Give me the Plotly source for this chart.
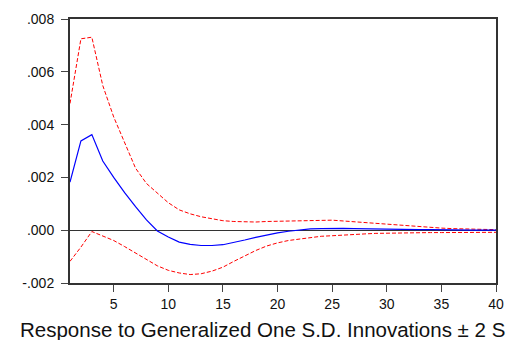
import plotly.graph_objects as go

periods = list(range(1, 41))

response = [0.00182, 0.00338, 0.00362, 0.00262, 0.00200, 0.00142, 0.00089, 0.00039, -0.00003, -0.00026,
            -0.00045, -0.00054, -0.00058, -0.00058, -0.00055, -0.00047, -0.00037, -0.00027, -0.00018, -0.00010,
            -0.00004, 0.00001, 0.00005, 0.00006, 0.00007, 0.00007, 0.00006, 0.00005, 0.00005, 0.00004,
            0.00003, 0.00003, 0.00002, 0.00002, 0.00001, 0.00001, 0.00001, 0.00000, 0.00000, 0.00000]

upper = [0.00480, 0.00725, 0.00731, 0.00548, 0.00429, 0.00329, 0.00235, 0.00177, 0.00140, 0.00104,
         0.00077, 0.00062, 0.00051, 0.00044, 0.00036, 0.00033, 0.00031, 0.00031, 0.00033, 0.00034,
         0.00036, 0.00036, 0.00038, 0.00038, 0.00038, 0.00035, 0.00032, 0.00029, 0.00025, 0.00021,
         0.00018, 0.00015, 0.00012, 0.00010, 0.00008, 0.00006, 0.00005, 0.00004, 0.00003, 0.00002]

lower = [-0.00118, -0.00064, -0.00005, -0.00021, -0.00039, -0.00062, -0.00087, -0.00112, -0.00135, -0.00152,
         -0.00162, -0.00168, -0.00165, -0.00155, -0.00140, -0.00118, -0.00097, -0.00077, -0.00060, -0.00048,
         -0.00039, -0.00033, -0.00027, -0.00023, -0.00021, -0.00018, -0.00016, -0.00014, -0.00012, -0.00011,
         -0.00010, -0.00009, -0.00009, -0.00009, -0.00009, -0.00009, -0.00008, -0.00008, -0.00008, -0.00008]

ytick_vals = [-0.002, 0.000, 0.002, 0.004, 0.006, 0.008]
ytick_text = ["-.002", ".000", ".002", ".004", ".006", ".008"]
xtick_vals = [5, 10, 15, 20, 25, 30, 35, 40]
title_text = "Response to Generalized One S.D. Innovations \u00b1 2 S.E."

fig = go.Figure()
fig.add_trace(go.Scatter(x=periods, y=upper, mode="lines",
                         line=dict(color="#ff0000", width=1, dash="4px,2px"), showlegend=False))
fig.add_trace(go.Scatter(x=periods, y=lower, mode="lines",
                         line=dict(color="#ff0000", width=1, dash="4px,2px"), showlegend=False))
fig.add_trace(go.Scatter(x=periods, y=response, mode="lines",
                         line=dict(color="#0000ff", width=1.2), showlegend=False))

fig.update_layout(
    width=506, height=340,
    margin=dict(l=70, r=10, t=19, b=57, autoexpand=False),
    paper_bgcolor="white", plot_bgcolor="white",
    font=dict(family="Liberation Sans, Arial, sans-serif", size=14, color="#111"),
    xaxis=dict(range=[1, 40], tickvals=xtick_vals, ticks="outside", ticklen=7, tickwidth=1,
               tickcolor="#444", showline=True, linecolor="#333", linewidth=2, mirror=True,
               showgrid=False, zeroline=False, tickfont=dict(size=14), automargin=False),
    yaxis=dict(range=[-0.002, 0.008], tickvals=ytick_vals, ticktext=ytick_text, ticks="outside",
               ticklen=7, tickwidth=1, tickcolor="#444", showline=True, linecolor="#333",
               linewidth=2, mirror=True, showgrid=False, zeroline=True, zerolinecolor="#333",
               zerolinewidth=1, tickfont=dict(size=14), ticklabelstandoff=4, automargin=False),
    annotations=[dict(text=title_text, xref="paper", yref="paper", x=0.481, y=-0.178,
                      xanchor="center", yanchor="middle", showarrow=False,
                      font=dict(size=20.5, color="#111"))],
)

fig.write_html("out.html")
